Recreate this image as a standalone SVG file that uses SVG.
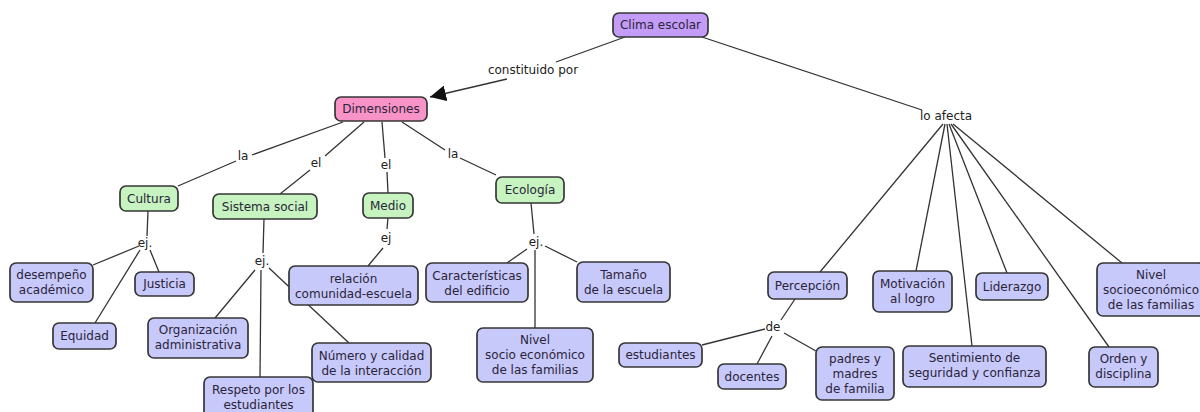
<svg xmlns="http://www.w3.org/2000/svg" width="1200" height="412" viewBox="0 0 1200 412">
<style>
.n rect{stroke:#363636;stroke-width:1.7}
.n text{fill:#2a2438}
.p rect{fill:#c39cf7}
.k rect{fill:#f893c8}
.g rect{fill:#c6f3c0}
.b rect{fill:#c8c9fb}
text{font-family:"DejaVu Sans",Verdana,sans-serif;font-size:12px;fill:#222;text-anchor:middle}
#links line{stroke:#333;stroke-width:1.3}
</style>
<defs>
<marker id="ah" viewBox="0 0 10 10" refX="10" refY="5" markerWidth="16" markerHeight="16" markerUnits="userSpaceOnUse" orient="auto"><path d="M0,0 L10,5 L0,10 z" fill="#111"/></marker>
</defs>
<rect width="1200" height="412" fill="#fff"/>
<g id="links">
<line x1="625" y1="37" x2="556" y2="62"/>
<line x1="507" y1="79" x2="430" y2="97" marker-end="url(#ah)"/>
<line x1="702" y1="37" x2="922" y2="110"/>
<line x1="343" y1="122" x2="252" y2="155"/>
<line x1="236" y1="161" x2="178" y2="186"/>
<line x1="364" y1="122" x2="325" y2="156"/>
<line x1="310" y1="170" x2="280" y2="194"/>
<line x1="382" y1="122" x2="385" y2="158"/>
<line x1="387" y1="172" x2="388" y2="193"/>
<line x1="402" y1="122" x2="445" y2="150"/>
<line x1="460" y1="158" x2="496" y2="175"/>
<line x1="148" y1="211" x2="147" y2="236"/>
<line x1="139" y1="246" x2="93" y2="265"/>
<line x1="140" y1="250" x2="95" y2="323"/>
<line x1="150" y1="250" x2="159" y2="272"/>
<line x1="264" y1="219" x2="263" y2="253"/>
<line x1="255" y1="270" x2="215" y2="318"/>
<line x1="261" y1="270" x2="260" y2="377"/>
<line x1="269" y1="268" x2="349" y2="343"/>
<line x1="388" y1="218" x2="387" y2="229"/>
<line x1="383" y1="248" x2="368" y2="266"/>
<line x1="531" y1="203" x2="534" y2="234"/>
<line x1="527" y1="249" x2="507" y2="263"/>
<line x1="535" y1="250" x2="535" y2="328"/>
<line x1="545" y1="246" x2="577" y2="262"/>
<line x1="943" y1="124" x2="820" y2="272"/>
<line x1="945" y1="124" x2="916" y2="271"/>
<line x1="947" y1="124" x2="972" y2="346"/>
<line x1="949" y1="124" x2="1007" y2="273"/>
<line x1="951" y1="124" x2="1109" y2="347"/>
<line x1="953" y1="124" x2="1122" y2="263"/>
<line x1="795" y1="299" x2="781" y2="320"/>
<line x1="765" y1="329" x2="702" y2="345"/>
<line x1="772" y1="336" x2="757" y2="364"/>
<line x1="784" y1="333" x2="816" y2="351"/>
</g>
<g id="linklabels">
<text x="533" y="74">constituido por</text>
<text x="946" y="120">lo afecta</text>
<text x="243" y="160">la</text>
<text x="316" y="167">el</text>
<text x="386" y="169">el</text>
<text x="453" y="158">la</text>
<text x="145" y="247">ej.</text>
<text x="262" y="265">ej.</text>
<text x="386" y="242">ej</text>
<text x="536" y="246">ej.</text>
<text x="773" y="331">de</text>
</g>
<g id="clima" class="n p"><rect x="613" y="13" width="95" height="24" rx="6"/><text x="660.5" y="29">Clima escolar</text></g>
<g id="dimensiones" class="n k"><rect x="335" y="97" width="92" height="24" rx="6"/><text x="381" y="113">Dimensiones</text></g>
<g id="cultura" class="n g"><rect x="120" y="186" width="58" height="25" rx="6"/><text x="149" y="203">Cultura</text></g>
<g id="sistema" class="n g"><rect x="213" y="194" width="104" height="25" rx="6"/><text x="265" y="211">Sistema social</text></g>
<g id="medio" class="n g"><rect x="363" y="193" width="50" height="25" rx="6"/><text x="388" y="210">Medio</text></g>
<g id="ecologia" class="n g"><rect x="496" y="177" width="68" height="26" rx="6"/><text x="530" y="194">Ecología</text></g>
<g id="desempeno" class="n b"><rect x="10" y="263" width="83" height="39" rx="6"/><text x="51.5" y="279">desempeño</text><text x="51.5" y="294">académico</text></g>
<g id="justicia" class="n b"><rect x="135" y="272" width="59" height="24" rx="6"/><text x="164.5" y="288">Justicia</text></g>
<g id="equidad" class="n b"><rect x="53" y="323" width="63" height="26" rx="6"/><text x="84.5" y="340">Equidad</text></g>
<g id="organizacion" class="n b"><rect x="148" y="318" width="100" height="40" rx="6"/><text x="198" y="334">Organización</text><text x="198" y="349">administrativa</text></g>
<g id="respeto" class="n b"><rect x="204" y="377" width="109" height="42" rx="6"/><text x="258.5" y="394">Respeto por los</text><text x="258.5" y="409">estudiantes</text></g>
<g id="relacion" class="n b"><rect x="289" y="266" width="129" height="39" rx="6"/><text x="353.5" y="283">relación</text><text x="353.5" y="298">comunidad-escuela</text></g>
<g id="numero" class="n b"><rect x="312" y="343" width="119" height="39" rx="6"/><text x="371.5" y="360">Número y calidad</text><text x="371.5" y="375">de la interacción</text></g>
<g id="caracteristicas" class="n b"><rect x="426" y="263" width="102" height="39" rx="6"/><text x="477" y="280">Características</text><text x="477" y="295">del edificio</text></g>
<g id="tamano" class="n b"><rect x="577" y="262" width="93" height="40" rx="6"/><text x="623.5" y="279">Tamaño</text><text x="623.5" y="294">de la escuela</text></g>
<g id="nivel1" class="n b"><rect x="477" y="328" width="116" height="54" rx="6"/><text x="535" y="344">Nivel</text><text x="535" y="359">socio económico</text><text x="535" y="374">de las familias</text></g>
<g id="percepcion" class="n b"><rect x="768" y="272" width="79" height="27" rx="6"/><text x="807.5" y="290">Percepción</text></g>
<g id="estudiantes" class="n b"><rect x="619" y="343" width="83" height="24" rx="6"/><text x="660.5" y="359">estudiantes</text></g>
<g id="docentes" class="n b"><rect x="718" y="364" width="68" height="25" rx="6"/><text x="752" y="381">docentes</text></g>
<g id="padres" class="n b"><rect x="816" y="347" width="78" height="53" rx="6"/><text x="855" y="363">padres y</text><text x="855" y="378">madres</text><text x="855" y="393">de familia</text></g>
<g id="motivacion" class="n b"><rect x="873" y="271" width="79" height="41" rx="6"/><text x="912.5" y="288">Motivación</text><text x="912.5" y="303">al logro</text></g>
<g id="liderazgo" class="n b"><rect x="976" y="273" width="72" height="27" rx="6"/><text x="1012" y="291">Liderazgo</text></g>
<g id="nivel2" class="n b"><rect x="1097" y="263" width="108" height="53" rx="6"/><text x="1151" y="279">Nivel</text><text x="1151" y="294">socioeconómico</text><text x="1151" y="309">de las familias</text></g>
<g id="sentimiento" class="n b"><rect x="903" y="346" width="143" height="41" rx="6"/><text x="974.5" y="362">Sentimiento de</text><text x="974.5" y="377">seguridad y confianza</text></g>
<g id="orden" class="n b"><rect x="1089" y="347" width="69" height="40" rx="6"/><text x="1123.5" y="363">Orden y</text><text x="1123.5" y="378">disciplina</text></g>
</svg>
